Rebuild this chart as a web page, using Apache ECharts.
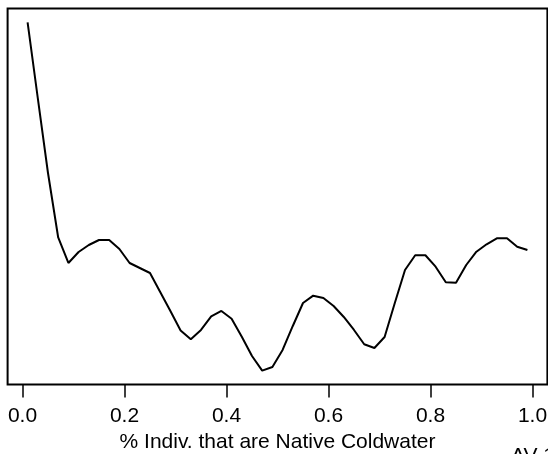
<!DOCTYPE html>
<html>
<head>
<meta charset="utf-8">
<script src="https://cdn.jsdelivr.net/npm/echarts@6/dist/echarts.min.js"></script>
<style>
html,body{margin:0;padding:0;background:#fff;}
#c{width:548px;height:454px;}
</style>
</head>
<body>
<div id="c"></div>
<script>
// Proportion of individuals that are native coldwater (x) vs. curve value (y)
const xValues = [0.01,0.03,0.05,0.07,0.09,0.11,0.13,0.15,0.17,0.19,
                 0.21,0.23,0.25,0.27,0.29,0.31,0.33,0.35,0.37,0.39,
                 0.41,0.43,0.45,0.47,0.49,0.51,0.53,0.55,0.57,0.59,
                 0.61,0.63,0.65,0.67,0.69,0.71,0.73,0.75,0.77,0.79,
                 0.81,0.83,0.85,0.87,0.89,0.91,0.93,0.95,0.97,0.99];
const yValues = [3.623,2.866,2.116,1.471,1.216,1.326,1.396,1.446,1.446,1.356,
                 1.216,1.166,1.116,0.926,0.736,0.541,0.453,0.546,0.681,0.736,
                 0.659,0.479,0.286,0.139,0.176,0.346,0.586,0.816,0.889,0.866,
                 0.786,0.676,0.546,0.403,0.366,0.476,0.816,1.146,1.293,1.293,
                 1.179,1.023,1.019,1.196,1.329,1.403,1.463,1.463,1.379,1.346];
const xTicks = [0, 0.2, 0.4, 0.6, 0.8, 1.0];
const xTitle = '% Indiv. that are Native Coldwater';
const cornerText = 'AV 1';

const FONT = '"Liberation Sans", Arial, Helvetica, sans-serif';
function padRange(arr) {
  const lo = Math.min(...arr), hi = Math.max(...arr), r = hi - lo;
  return [lo - 0.04 * r, hi + 0.04 * r];
}
const [xmin, xmax] = padRange(xValues);
const [ymin, ymax] = padRange(yValues);

const chart = echarts.init(document.getElementById('c'), null, {renderer: 'canvas'});
chart.setOption({
  animation: false,
  backgroundColor: '#fff',
  grid: {
    show: true, left: 7.6, right: 0.6, top: 8.4, bottom: 69.4,
    outerBoundsMode: 'none', containLabel: false,
    borderColor: '#000', borderWidth: 2, backgroundColor: 'transparent'
  },
  xAxis: {
    type: 'value', min: xmin, max: xmax,
    axisLine: {show: false},
    splitLine: {show: false},
    axisTick: {show: true, customValues: xTicks, length: 13, inside: false,
               lineStyle: {color: '#000', width: 1.5}},
    axisLabel: {show: true, customValues: xTicks, margin: 21,
                formatter: v => v.toFixed(1),
                color: '#000', fontSize: 21, fontFamily: FONT},
    name: xTitle, nameLocation: 'middle', nameGap: 47,
    nameTextStyle: {color: '#000', fontSize: 21, fontFamily: FONT}
  },
  yAxis: {
    type: 'value', min: ymin, max: ymax, show: false,
    splitLine: {show: false}
  },
  series: [{
    type: 'line',
    data: xValues.map((x, i) => [x, yValues[i]]),
    showSymbol: false,
    lineStyle: {color: '#000', width: 2},
    clip: true
  }],
  graphic: [{
    type: 'text', left: 511, top: 446,
    style: {text: cornerText, fill: '#000', fontSize: 21, fontFamily: FONT}
  }]
});
</script>
</body>
</html>
